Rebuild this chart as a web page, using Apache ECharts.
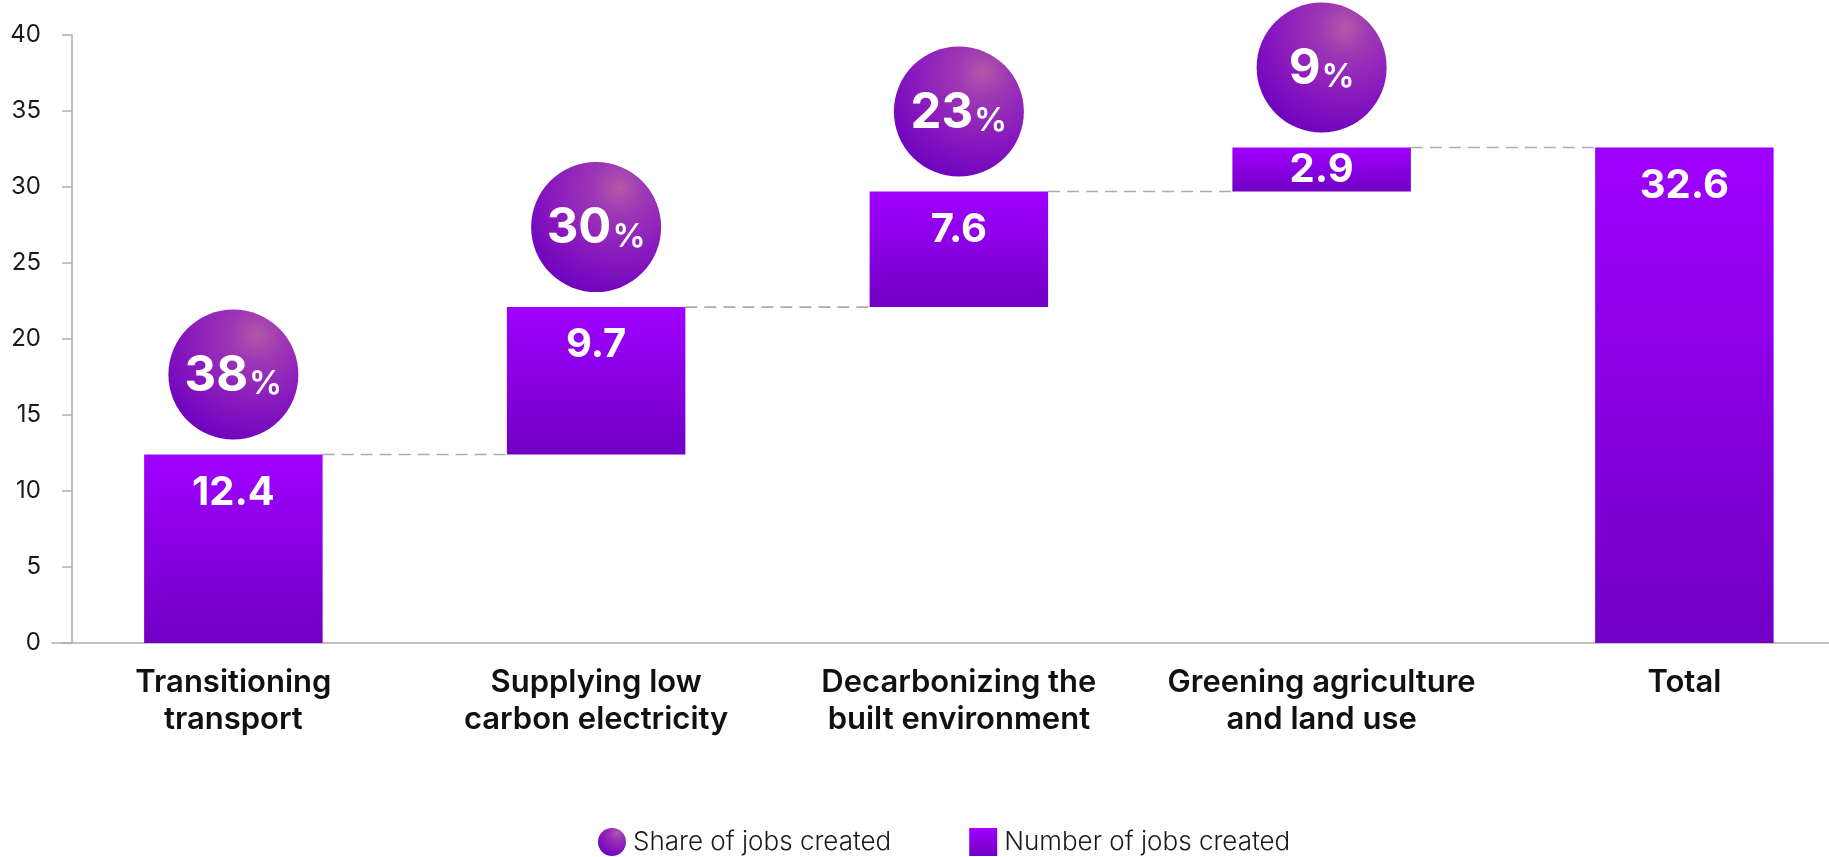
<!DOCTYPE html>
<html>
<head>
<meta charset="utf-8">
<script src="https://cdn.jsdelivr.net/npm/echarts@6/dist/echarts.min.js"></script>
<style>
  html, body { margin: 0; padding: 0; background: #ffffff; }
  #chart { width: 1829px; height: 857px; }
</style>
</head>
<body>
<div id="chart"></div>
<script>
// Categories along the x axis (two-line labels)
const categories = [
  'Transitioning\ntransport',
  'Supplying low\ncarbon electricity',
  'Decarbonizing the\nbuilt environment',
  'Greening agriculture\nand land use',
  'Total'
];
// Jobs created per area (millions) and the overall total
const jobsCreated = [12.4, 9.7, 7.6, 2.9];
const jobsTotal = 32.6;
// Share of all jobs created, in percent
const shareOfJobs = [38, 30, 23, 9];
// Value axis range and step
const yMin = 0;
const yMax = 40;
const yStep = 5;

// Waterfall: invisible base + visible step, total bar sits on zero
const barValues = jobsCreated.concat([jobsTotal]);
const baseValues = [];
let running = 0;
jobsCreated.forEach(v => { baseValues.push(running); running += v; });
baseValues.push(0);
const stepTops = jobsCreated.map((v, i) => +(baseValues[i] + v).toFixed(1));

const BAR_RATIO = 0.492;
const barFill = new echarts.graphic.LinearGradient(0, 0, 0, 1, [
  { offset: 0, color: '#a000fe' },
  { offset: 1, color: '#7100c4' }
]);
const bubbleFill = new echarts.graphic.RadialGradient(0.68, 0.2, 0.9, [
  { offset: 0, color: '#b458a8' },
  { offset: 0.22, color: '#9e38b4' },
  { offset: 0.6, color: '#8818be' },
  { offset: 1, color: '#6a00be' }
]);

const axisGrey = '#aeada6';
const FONT = 'Inter, "Noto Sans", sans-serif';

const chart = echarts.init(document.getElementById('chart'), null, { renderer: 'canvas' });

chart.setOption({
  animation: false,
  backgroundColor: '#ffffff',
  grid: {
    left: 52,
    top: 35,
    bottom: 214,
    width: 362.75 * categories.length,
    containLabel: false,
    outerBoundsMode: 'none'
  },
  legend: {
    left: 593,
    top: 823,
    itemWidth: 28,
    itemHeight: 28,
    itemGap: 78,
    selectedMode: false,
    textStyle: { fontFamily: FONT, fontSize: 26, fontWeight: 300, color: '#1a1a1a', padding: [0, 0, 0, 2] },
    data: [
      { name: 'Share of jobs created', icon: 'circle' },
      { name: 'Number of jobs created', icon: 'rect' }
    ]
  },
  xAxis: {
    type: 'category',
    data: categories,
    axisTick: { show: false },
    axisLine: { lineStyle: { color: axisGrey, width: 1.5 } },
    axisLabel: {
      fontFamily: FONT,
      fontSize: 31,
      fontWeight: 600,
      color: '#111111',
      lineHeight: 37,
      margin: 21,
      interval: 0
    }
  },
  yAxis: {
    type: 'value',
    min: yMin,
    max: yMax,
    interval: yStep,
    offset: -20,
    axisLine: { show: true, lineStyle: { color: axisGrey, width: 1.5 } },
    axisTick: { show: true, length: 10, lineStyle: { color: axisGrey, width: 1.5 } },
    splitLine: { show: false },
    axisLabel: { fontFamily: FONT, fontSize: 24, fontWeight: 400, color: '#1a1a1a', margin: 31 }
  },
  series: [
    {
      name: 'connectors',
      type: 'custom',
      z: 1,
      silent: true,
      data: stepTops.map((t, i) => [i, t]),
      renderItem: function (params, api) {
        const i = api.value(0);
        const level = api.value(1);
        const p0 = api.coord([i, level]);
        const p1 = api.coord([i + 1, level]);
        const half = api.size([1, 0])[0] * BAR_RATIO / 2;
        return {
          type: 'line',
          shape: { x1: p0[0] + half, y1: p0[1], x2: p1[0] - half, y2: p1[1] },
          style: { stroke: '#aeada6', lineWidth: 1.6, lineDash: [12, 7] }
        };
      }
    },
    {
      name: 'base',
      type: 'bar',
      stack: 'waterfall',
      silent: true,
      barWidth: (BAR_RATIO * 100) + '%',
      itemStyle: { color: 'transparent' },
      emphasis: { disabled: true },
      data: baseValues
    },
    {
      name: 'Number of jobs created',
      type: 'bar',
      stack: 'waterfall',
      z: 2,
      barWidth: (BAR_RATIO * 100) + '%',
      itemStyle: { color: barFill },
      label: {
        show: true,
        position: 'insideTop',
        distance: 18,
        fontFamily: FONT,
        fontSize: 40,
        fontWeight: 700,
        color: '#ffffff',
        formatter: p => barValues[p.dataIndex].toFixed(1)
      },
      data: barValues.map(v => (v < 5 ? { value: v, label: { position: 'inside' } } : v))
    },
    {
      name: 'Share of jobs created',
      type: 'scatter',
      z: 3,
      symbol: 'circle',
      symbolSize: 130,
      symbolOffset: [0, -80],
      itemStyle: { color: bubbleFill, opacity: 1 },
      emphasis: { disabled: true },
      label: {
        show: true,
        position: 'inside',
        formatter: p => '{n|' + shareOfJobs[p.dataIndex] + '}{p|%}',
        rich: {
          n: { fontFamily: FONT, fontSize: 49, fontWeight: 700, color: '#ffffff', verticalAlign: 'bottom', lineHeight: 52 },
          p: { fontFamily: FONT, fontSize: 33, fontWeight: 600, color: '#ffffff', verticalAlign: 'bottom', lineHeight: 44, padding: [0, 0, 0, 1] }
        }
      },
      data: stepTops.map((t, i) => [i, t])
    }
  ]
});
</script>
</body>
</html>
